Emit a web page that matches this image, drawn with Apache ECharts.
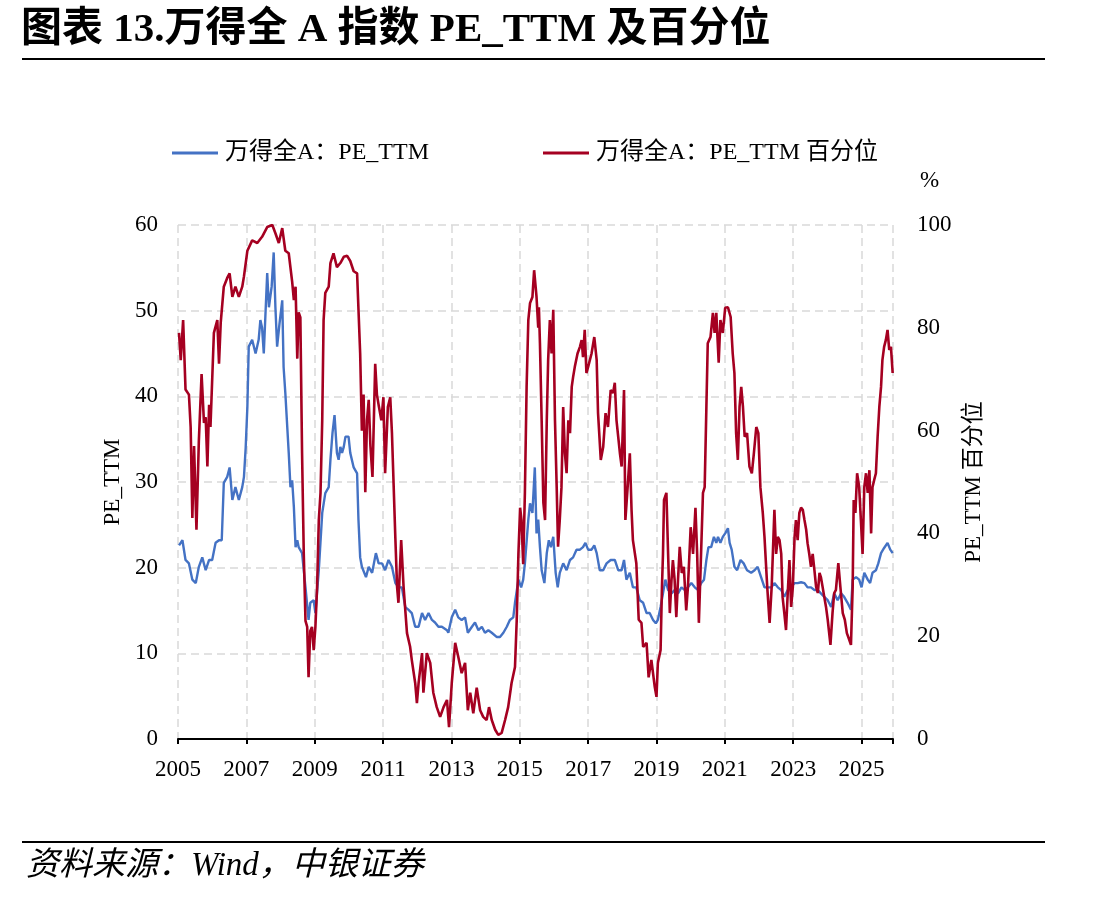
<!DOCTYPE html>
<html>
<head>
<meta charset="utf-8">
<script src="https://cdn.jsdelivr.net/npm/echarts@6/dist/echarts.min.js"></script>
<style>
html,body{margin:0;padding:0;background:#fff;}
#c{width:1104px;height:900px;}
</style>
</head>
<body>
<div id="c"></div>
<script>
// ---- data (decimal year, value) ----
const peYears = [2005.03,2005.13,2005.22,2005.32,2005.42,2005.52,2005.61,2005.71,2005.81,2005.91,2006.00,2006.10,2006.20,2006.28,2006.34,2006.44,2006.51,2006.59,2006.68,2006.78,2006.88,2006.93,2006.98,2007.03,2007.07,2007.17,2007.27,2007.36,2007.41,2007.46,2007.51,2007.61,2007.66,2007.74,2007.80,2007.85,2007.90,2007.97,2008.05,2008.09,2008.14,2008.24,2008.29,2008.34,2008.39,2008.44,2008.49,2008.53,2008.63,2008.73,2008.82,2008.87,2008.97,2009.02,2009.12,2009.22,2009.31,2009.41,2009.46,2009.52,2009.58,2009.65,2009.70,2009.75,2009.80,2009.85,2009.90,2009.99,2010.04,2010.14,2010.24,2010.28,2010.33,2010.38,2010.50,2010.58,2010.68,2010.79,2010.87,2010.97,2011.06,2011.16,2011.26,2011.36,2011.45,2011.55,2011.65,2011.74,2011.84,2011.94,2012.04,2012.14,2012.23,2012.33,2012.43,2012.52,2012.62,2012.72,2012.87,2012.91,2013.01,2013.11,2013.20,2013.30,2013.40,2013.48,2013.60,2013.69,2013.79,2013.89,2013.98,2014.08,2014.18,2014.33,2014.42,2014.52,2014.62,2014.71,2014.81,2014.86,2014.96,2015.04,2015.10,2015.15,2015.25,2015.30,2015.37,2015.44,2015.49,2015.54,2015.59,2015.64,2015.72,2015.79,2015.85,2015.91,2015.98,2016.05,2016.11,2016.17,2016.27,2016.37,2016.47,2016.56,2016.66,2016.76,2016.85,2016.92,2017.00,2017.10,2017.18,2017.25,2017.34,2017.44,2017.54,2017.66,2017.78,2017.88,2017.98,2018.05,2018.12,2018.22,2018.31,2018.41,2018.51,2018.61,2018.71,2018.80,2018.90,2018.98,2019.04,2019.12,2019.19,2019.26,2019.34,2019.44,2019.53,2019.63,2019.73,2019.82,2019.92,2020.02,2020.12,2020.21,2020.31,2020.39,2020.46,2020.52,2020.60,2020.68,2020.75,2020.80,2020.87,2020.94,2021.01,2021.09,2021.14,2021.20,2021.28,2021.36,2021.46,2021.55,2021.65,2021.77,2021.87,2021.96,2022.06,2022.16,2022.26,2022.36,2022.45,2022.55,2022.65,2022.74,2022.84,2022.94,2023.04,2023.13,2023.23,2023.33,2023.42,2023.52,2023.62,2023.72,2023.81,2023.91,2024.01,2024.11,2024.20,2024.30,2024.40,2024.49,2024.59,2024.69,2024.74,2024.84,2024.93,2025.00,2025.08,2025.18,2025.25,2025.32,2025.42,2025.49,2025.57,2025.66,2025.76,2025.84,2025.91];
const peValues = [22.6,23.2,20.9,20.5,18.6,18.2,20.1,21.2,19.7,20.9,20.9,22.9,23.2,23.2,29.9,30.6,31.7,27.9,29.4,27.9,29.4,30.6,34,38.8,45.8,46.6,45,46.6,48.9,48,45,54.4,50.4,52.8,56.8,50.4,45.8,48.5,51.2,43.4,40.4,33.4,29.4,30.2,27.1,22.4,23.2,22.4,21.7,17.7,13.9,15.9,16.2,14.7,19.7,26.4,28.7,29.4,32.6,35.7,37.8,33.4,32.6,34.1,33.4,34.1,35.3,35.3,33.4,31.7,31,25.6,21.2,20.1,18.9,20.1,19.4,21.7,20.5,20.5,19.7,20.9,20.1,18.2,17.7,17.7,15.4,15.1,14.7,13.1,13.1,14.7,13.9,14.7,13.9,13.6,13.1,13.1,12.7,12.4,14.2,15.1,14.2,13.9,14.2,12.4,13.1,13.6,12.7,13.1,12.4,12.7,12.4,11.9,11.9,12.4,13.1,13.9,14.2,15.9,18.6,17.7,18.6,20.5,25.6,27.5,26.4,31.7,24,25.6,22.4,19.7,18.2,21.7,23.2,22.4,23.6,19.4,17.7,19.4,20.5,19.7,20.9,21.2,22.1,22.1,22.4,22.9,22.1,22.1,22.6,21.7,19.7,19.7,20.5,20.9,20.9,19.7,19.7,20.9,18.6,19.4,17.7,17.7,16.2,15.9,14.7,14.7,13.9,13.5,13.9,15.4,17,18.6,17.4,17,17.4,17,17.7,17.4,17.7,18.2,17.7,17.4,18.2,18.6,20.9,22.4,22.4,23.6,22.9,23.6,22.9,23.6,24,24.6,22.9,22.1,20.1,19.7,20.9,20.5,19.7,19.4,19.7,20.1,18.9,17.7,17.7,17.7,18.2,17.7,17.4,16.6,17.4,17.7,18.2,18.2,18.3,18.2,17.7,17.7,17.4,17.4,17,16.6,16.2,15.4,17,16.2,17,16.6,15.9,15.1,18.6,18.9,18.6,17.7,19.4,18.6,18.2,19.4,19.7,20.5,21.7,22.3,22.9,22.1,21.7];

const pctYears = [2005.03,2005.08,2005.15,2005.22,2005.32,2005.37,2005.42,2005.47,2005.54,2005.61,2005.69,2005.76,2005.81,2005.86,2005.91,2005.95,2006.05,2006.15,2006.20,2006.25,2006.34,2006.44,2006.51,2006.59,2006.68,2006.78,2006.88,2006.93,2007.03,2007.17,2007.32,2007.46,2007.61,2007.76,2007.85,2007.95,2008.05,2008.14,2008.24,2008.34,2008.39,2008.44,2008.49,2008.53,2008.58,2008.63,2008.68,2008.73,2008.78,2008.82,2008.87,2008.92,2008.97,2009.02,2009.07,2009.12,2009.17,2009.22,2009.26,2009.31,2009.41,2009.46,2009.55,2009.65,2009.75,2009.85,2009.95,2010.04,2010.14,2010.24,2010.33,2010.38,2010.43,2010.48,2010.53,2010.58,2010.63,2010.69,2010.77,2010.82,2010.87,2010.95,2011.01,2011.06,2011.14,2011.21,2011.26,2011.36,2011.41,2011.45,2011.53,2011.60,2011.70,2011.79,2011.84,2011.94,2011.99,2012.04,2012.14,2012.18,2012.28,2012.38,2012.47,2012.57,2012.67,2012.77,2012.87,2012.93,2013.01,2013.11,2013.20,2013.30,2013.40,2013.48,2013.55,2013.64,2013.74,2013.84,2013.93,2014.03,2014.10,2014.18,2014.28,2014.37,2014.47,2014.57,2014.66,2014.76,2014.86,2014.91,2014.96,2015.01,2015.05,2015.10,2015.15,2015.20,2015.25,2015.30,2015.37,2015.42,2015.49,2015.54,2015.56,2015.59,2015.64,2015.69,2015.74,2015.79,2015.83,2015.88,2015.93,2015.98,2016.03,2016.08,2016.12,2016.17,2016.22,2016.27,2016.32,2016.37,2016.42,2016.47,2016.52,2016.56,2016.61,2016.69,2016.76,2016.81,2016.85,2016.90,2016.95,2017.00,2017.10,2017.18,2017.25,2017.29,2017.37,2017.44,2017.51,2017.58,2017.66,2017.73,2017.78,2017.83,2017.93,2017.98,2018.05,2018.09,2018.17,2018.22,2018.27,2018.31,2018.41,2018.48,2018.56,2018.61,2018.71,2018.77,2018.85,2018.95,2019.00,2019.04,2019.12,2019.16,2019.19,2019.22,2019.29,2019.34,2019.39,2019.44,2019.48,2019.53,2019.58,2019.63,2019.68,2019.74,2019.80,2019.87,2019.92,2020.00,2020.07,2020.14,2020.19,2020.24,2020.29,2020.36,2020.41,2020.46,2020.50,2020.58,2020.65,2020.70,2020.75,2020.82,2020.87,2020.94,2021.01,2021.09,2021.17,2021.23,2021.28,2021.33,2021.38,2021.43,2021.48,2021.53,2021.58,2021.65,2021.72,2021.79,2021.85,2021.92,2021.98,2022.04,2022.11,2022.16,2022.24,2022.31,2022.37,2022.45,2022.50,2022.55,2022.60,2022.65,2022.69,2022.74,2022.79,2022.84,2022.89,2022.94,2022.99,2023.04,2023.08,2023.13,2023.18,2023.23,2023.28,2023.33,2023.38,2023.42,2023.47,2023.52,2023.57,2023.62,2023.67,2023.72,2023.77,2023.81,2023.86,2023.91,2023.96,2024.01,2024.09,2024.15,2024.20,2024.25,2024.32,2024.38,2024.45,2024.51,2024.57,2024.64,2024.69,2024.74,2024.77,2024.82,2024.87,2024.93,2024.98,2025.03,2025.08,2025.13,2025.18,2025.23,2025.28,2025.32,2025.37,2025.42,2025.47,2025.52,2025.57,2025.61,2025.66,2025.71,2025.76,2025.81,2025.86,2025.91];
const pctValues = [79,73.7,81.5,68,67,60.7,43,57,40.7,58,71,61.5,62.6,53,65,60.7,79,81.5,73,81,88,89.7,90.6,86,88,86,88,90,95,97,96.5,97.7,99.6,100,98.4,96.5,99.4,95,94.5,89,85.4,88,74,83,82,55.6,36,23,21.8,12,21,21.8,17.3,21.8,29.6,42.6,47.9,62,81.5,86.8,88,92.6,94.5,91.8,92.6,93.8,94,93,91,90.6,75,60,67,48,62,66,57,51,73,67,65,62,66.5,51.7,64.6,66.5,59.5,39,29.6,26.5,38.7,29.6,20.6,18,15.4,10.9,7,10.9,16.7,9,16.7,14.8,9,6.2,4.3,6.2,7.6,2.3,10.9,18.7,16,12.8,14.8,5.6,9,5,10,5.6,4.3,3.7,6.2,3.7,1.8,0.8,1.2,3.7,6.2,10.9,14,23,36,45,42.6,34,48,68.5,81.5,84.8,86,91.2,86,80,84,77,62,46,42.6,62,73.7,81.5,75,83.5,62,49,37.4,42.6,49,64.6,55.6,51.7,62,59.5,68.5,70.4,72.4,75,76.3,77.6,74.3,79.6,71.2,72.4,75,78.2,73.7,63.4,54.3,56.8,63.4,60.7,67.9,67.3,69.3,62,55.6,53,67.9,42.6,50.4,55.6,44.6,38.7,34.2,23.2,22.6,17.9,18.7,12,15.4,10.1,8.2,14.8,17.3,29.6,36,46.5,47.9,36,24.5,31,34.8,31,23.7,31,37.4,32.3,33.5,25,29.6,41.2,36,45,36,22.6,33,47.9,49,64.6,77,78.2,82.9,79,82.9,73.2,81.5,79,83.9,84,82.1,75,71.2,59.5,54.3,64.6,68.5,64.6,58.8,59.5,53,51.7,55.6,60.7,59.5,49,44,39.3,29.6,22.6,29.6,44.6,36,39.3,38.7,36,27.6,24.5,21.2,28.4,34.8,25.7,29.6,39.3,42.6,38.7,44,45,44.6,42.6,40.7,38.1,36,33.5,36,32.9,29.6,28.4,32.3,31.5,29.6,27.6,25.7,23.2,18.3,24.5,28.4,29,34.2,29.6,24.5,23.2,20.6,19.3,18.3,29.6,46.5,44,51.7,49,42.6,36,49,51.7,47.9,52.3,40,49,50.4,51.7,58.8,64.6,68.5,73.7,76.3,77.6,79.6,75.7,76.3,71.2];

const xTickYears = [2005,2007,2009,2011,2013,2015,2017,2019,2021,2023,2025];
const seriesNames = ['万得全A：PE_TTM','万得全A：PE_TTM 百分位'];
const titleText = '图表 13.万得全 A 指数 PE_TTM 及百分位';
const sourceText = '资料来源：Wind，中银证券';

const BASE = 2005, XEND = 2025.92;
const FONT = "'Liberation Serif','Noto Sans CJK SC',serif";
const toPts = (xs, ys) => xs.map((x, i) => [x - BASE, ys[i]]);
const dash = {color:'#D9D9D9', width:1.5, type:[8,5]};
const LBL = 23;

const chart = echarts.init(document.getElementById('c'), null, {renderer:'canvas'});
chart.setOption({
  animation:false,
  backgroundColor:'#fff',
  textStyle:{fontFamily:FONT},
  title:{text:titleText, left:21, top:10, padding:0,
    textStyle:{fontFamily:FONT, fontSize:41, fontWeight:'bold', color:'#000'}},
  graphic:[
    {type:'line', shape:{x1:22,y1:59,x2:1045,y2:59}, style:{stroke:'#000', lineWidth:2}},
    {type:'line', shape:{x1:22,y1:842,x2:1045,y2:842}, style:{stroke:'#000', lineWidth:2}},
    {type:'text', left:26, top:850, style:{text:sourceText, font:"italic 33px "+FONT, fill:'#000'}},
    {type:'text', left:920, top:169, style:{text:'%', font:"23px "+FONT, fill:'#000'}}
  ],
  legend:[
    {data:[seriesNames[0]], left:172, top:141, padding:0, icon:'rect', itemWidth:46, itemHeight:3,
      textStyle:{fontFamily:FONT, fontSize:24, color:'#000', padding:[0,0,0,2]}},
    {data:[seriesNames[1]], left:543, top:141, padding:0, icon:'rect', itemWidth:46, itemHeight:3,
      textStyle:{fontFamily:FONT, fontSize:24, color:'#000', padding:[0,0,0,2]}}
  ],
  grid:{left:178, right:211, top:225, bottom:161, containLabel:false},
  xAxis:{type:'value', min:0, max:XEND-BASE, interval:2,
    axisLine:{show:true, onZero:false, lineStyle:{color:'#000', width:2}},
    axisTick:{show:true, length:5, lineStyle:{color:'#000', width:2}},
    axisLabel:{fontFamily:FONT, fontSize:LBL, color:'#000', margin:19,
      formatter:v => (Math.abs(v - Math.round(v)) < 1e-6 && Math.round(v) % 2 === 0) ? String(BASE + Math.round(v)) : ''},
    splitLine:{show:true, lineStyle:dash}},
  yAxis:[
    {type:'value', min:0, max:60, interval:10, position:'left',
      name:'PE_TTM', nameLocation:'middle', nameGap:53, nameRotate:90,
      nameTextStyle:{fontFamily:FONT, fontSize:LBL, color:'#000'},
      axisLine:{show:false}, axisTick:{show:false},
      axisLabel:{fontFamily:FONT, fontSize:LBL, color:'#000', margin:20},
      splitLine:{show:true, lineStyle:dash}},
    {type:'value', min:0, max:100, interval:20, position:'right',
      name:'PE_TTM 百分位', nameLocation:'middle', nameGap:64, nameRotate:90,
      nameTextStyle:{fontFamily:FONT, fontSize:LBL, color:'#000'},
      axisLine:{show:false}, axisTick:{show:false},
      axisLabel:{fontFamily:FONT, fontSize:LBL, color:'#000', margin:24},
      splitLine:{show:false}}
  ],
  series:[
    {name:seriesNames[0], type:'line', yAxisIndex:0, showSymbol:false, symbol:'none',
      data:toPts(peYears, peValues), lineStyle:{color:'#4472C4', width:2.4}, itemStyle:{color:'#4472C4'}, z:2},
    {name:seriesNames[1], type:'line', yAxisIndex:1, showSymbol:false, symbol:'none',
      data:toPts(pctYears, pctValues), lineStyle:{color:'#A50021', width:2.6}, itemStyle:{color:'#A50021'}, z:3}
  ]
});
</script>
</body>
</html>
